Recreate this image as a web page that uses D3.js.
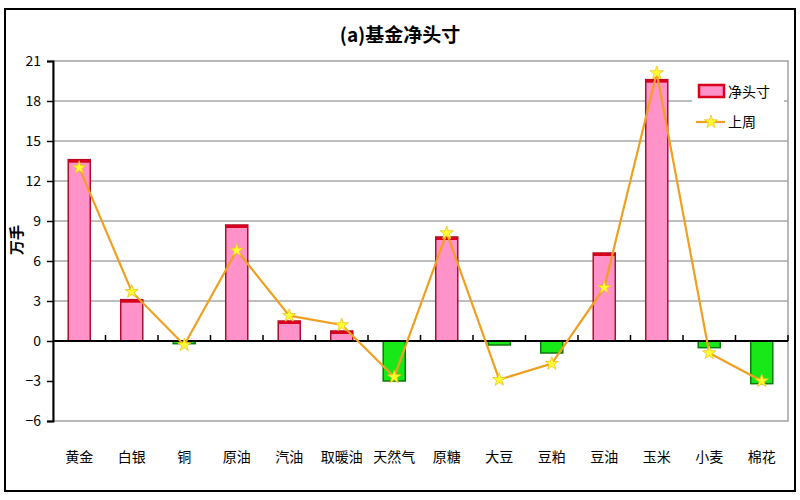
<!DOCTYPE html>
<html><head><meta charset="utf-8">
<script src="https://cdn.jsdelivr.net/npm/d3@7/dist/d3.min.js"></script>
<style>body{margin:0;background:#fff}svg{display:block}</style>
</head><body>
<svg id="c" width="800" height="500"></svg>
<script>
const categories = ["黄金","白银","铜","原油","汽油","取暖油","天然气","原糖","大豆","豆粕","豆油","玉米","小麦","棉花"];
const netPosition = [13.6, 3.1, -0.2, 8.7, 1.5, 0.75, -3.0, 7.8, -0.3, -0.9, 6.6, 19.6, -0.5, -3.2];
const lastWeek = [13.0, 3.7, -0.3, 6.8, 1.9, 1.2, -2.7, 8.1, -2.9, -1.7, 4.0, 20.1, -0.9, -3.0];
const yTicks = [-6, -3, 0, 3, 6, 9, 12, 15, 18, 21];
const seriesNames = ["净头寸", "上周"];
const title = "(a)基金净头寸";
const yLabel = "万手";

const svg = d3.select("#c");
const font = "'Noto Sans CJK SC','Liberation Sans',sans-serif";
const L = 53, R = 788, T = 61, B = 421;

svg.append("rect").attr("x",5).attr("y",9).attr("width",790).attr("height",482)
  .attr("fill","#fff").attr("stroke","#000").attr("stroke-width",2);

const x = d3.scaleBand().domain(categories).range([L, R]).paddingInner(0.58).paddingOuter(0.29);
const xb = d3.scaleBand().domain(categories).range([L, R]);
const y = d3.scaleLinear().domain([-6, 21]).range([B, T]);

// plot border
svg.append("rect").attr("x",L).attr("y",T).attr("width",R-L).attr("height",B-T)
  .attr("fill","none").attr("stroke","#a0a0a0").attr("stroke-width",1.5);

// gridlines
svg.append("g").selectAll("line").data(yTicks.filter(v => v > 0 && v < 21)).join("line")
  .attr("x1",L).attr("x2",R).attr("y1",d=>y(d)).attr("y2",d=>y(d))
  .attr("stroke","#a8a8a8").attr("stroke-width",1.5);

// bars
const bars = svg.append("g");
bars.selectAll("rect").data(categories).join("rect")
  .attr("x", d => x(d))
  .attr("width", x.bandwidth())
  .attr("y", (d,i) => y(Math.max(0, netPosition[i])))
  .attr("height", (d,i) => Math.abs(y(netPosition[i]) - y(0)))
  .attr("fill", (d,i) => netPosition[i] >= 0 ? "#ff92c8" : "#18e818")
  .attr("stroke", (d,i) => netPosition[i] >= 0 ? "#a8102c" : "#0a7a0a")
  .attr("stroke-width", 1.5);
bars.selectAll("line.cap").data(categories.filter((d,i)=>netPosition[i] > 0)).join("line")
  .attr("class","cap")
  .attr("x1", d => x(d)).attr("x2", d => x(d) + x.bandwidth())
  .attr("y1", d => y(netPosition[categories.indexOf(d)]) + 1.5)
  .attr("y2", d => y(netPosition[categories.indexOf(d)]) + 1.5)
  .attr("stroke","#d8001c").attr("stroke-width",3);

// zero axis
svg.append("line").attr("x1",L).attr("x2",R).attr("y1",y(0)).attr("y2",y(0))
  .attr("stroke","#000").attr("stroke-width",2);
svg.append("g").selectAll("line").data(categories.slice(1)).join("line")
  .attr("x1",d=>xb(d)).attr("x2",d=>xb(d)).attr("y1",y(0)).attr("y2",y(0)-6)
  .attr("stroke","#000").attr("stroke-width",1.5);
svg.append("line").attr("x1",R).attr("x2",R).attr("y1",y(0)).attr("y2",y(0)-6)
  .attr("stroke","#000").attr("stroke-width",1.5);

// y axis
const yAxis = svg.append("g").attr("transform",`translate(${L},0)`)
  .call(d3.axisLeft(y).tickValues(yTicks).tickSize(6).tickPadding(6));
yAxis.select(".domain").attr("stroke","#000").attr("stroke-width",2);
yAxis.selectAll(".tick line").attr("stroke","#000").attr("stroke-width",1.5);
yAxis.selectAll("text").attr("font-family",font).attr("font-size",14).attr("fill","#000");

// x labels
svg.append("g").selectAll("text").data(categories).join("text")
  .attr("x", d => xb(d) + xb.bandwidth()/2).attr("y", 462)
  .attr("text-anchor","middle").attr("font-family",font).attr("font-size",14)
  .attr("fill","#000").text(d=>d);

// line
const lineGen = d3.line().x((d,i)=>xb(categories[i]) + xb.bandwidth()/2).y(d=>y(d));
svg.append("path").datum(lastWeek).attr("d",lineGen).attr("fill","none")
  .attr("stroke","#f0a020").attr("stroke-width",2.2);
const star = d3.symbol().type(d3.symbolStar).size(55);
svg.append("g").selectAll("path").data(lastWeek).join("path")
  .attr("transform",(d,i)=>`translate(${xb(categories[i]) + xb.bandwidth()/2},${y(d)})`)
  .attr("d",star).attr("fill","#ffff30").attr("stroke","#f0c020").attr("stroke-width",0.8);

// title
svg.append("text").attr("x",400).attr("y",42).attr("text-anchor","middle")
  .attr("font-family",font).attr("font-size",19).attr("font-weight","bold").text(title);

// y label
svg.append("text").attr("transform","translate(22,240) rotate(-90)").attr("text-anchor","middle")
  .attr("font-family",font).attr("font-size",15).attr("font-weight","bold").text(yLabel);

// legend
const lg = svg.append("g");
lg.append("rect").attr("x",692).attr("y",78).attr("width",92).attr("height",54).attr("fill","#fff");
lg.append("rect").attr("x",699).attr("y",85).attr("width",25).attr("height",12)
  .attr("fill","#ff92c8").attr("stroke","#d8001c").attr("stroke-width",2.5);
lg.append("text").attr("x",728).attr("y",97).attr("font-family",font).attr("font-size",14).text(seriesNames[0]);
lg.append("line").attr("x1",696).attr("x2",725).attr("y1",122).attr("y2",122)
  .attr("stroke","#f0a020").attr("stroke-width",2.2);
lg.append("path").attr("transform","translate(711,122)").attr("d",star)
  .attr("fill","#ffff30").attr("stroke","#f0c020").attr("stroke-width",0.8);
lg.append("text").attr("x",728).attr("y",127).attr("font-family",font).attr("font-size",14).text(seriesNames[1]);
</script>
</body></html>
